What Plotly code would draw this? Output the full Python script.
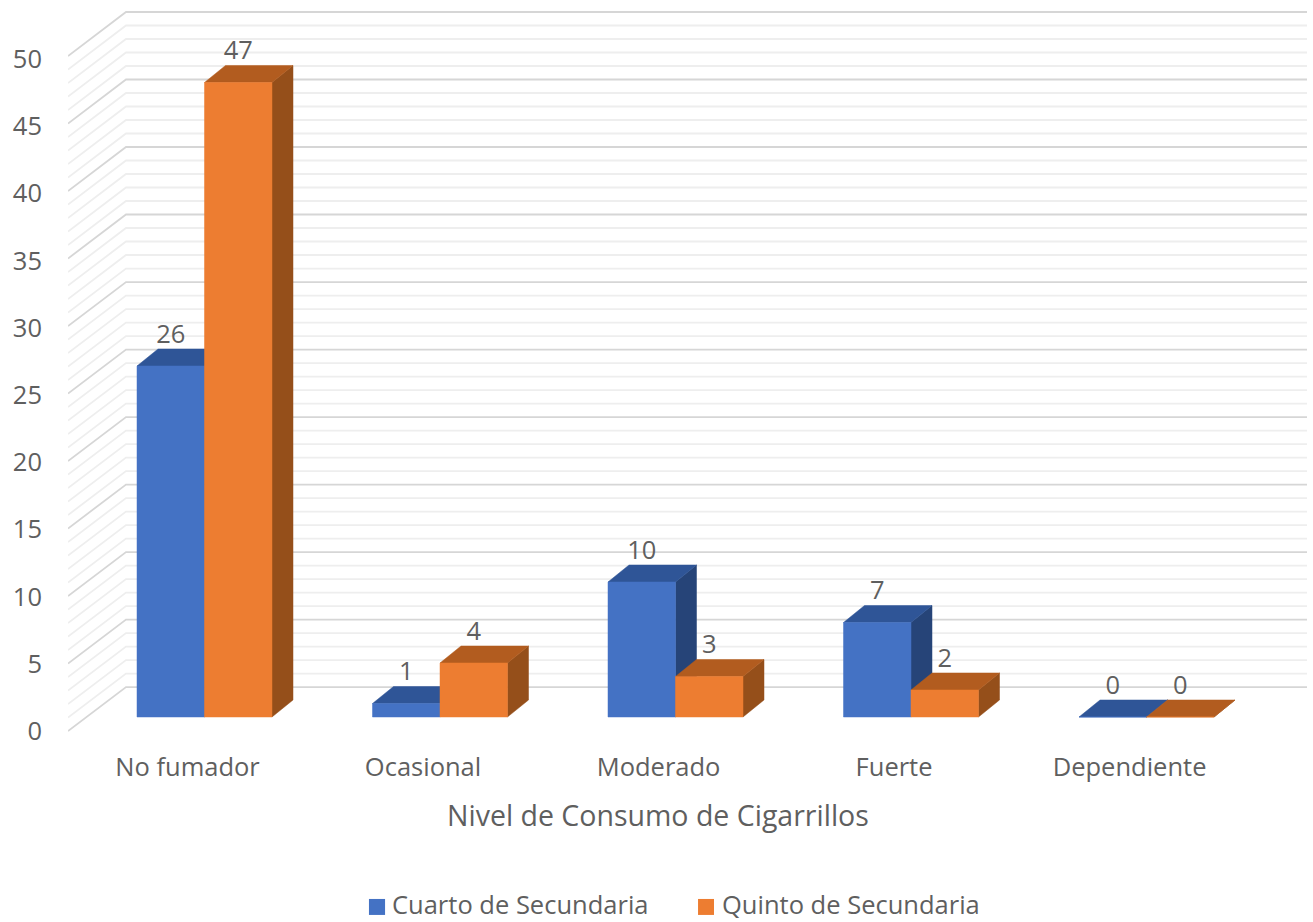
import plotly.graph_objects as go

categories = ["No fumador", "Ocasional", "Moderado", "Fuerte", "Dependiente"]
cuarto = [26, 1, 10, 7, 0]
quinto = [47, 4, 3, 2, 0]
y_ticks = [0, 5, 10, 15, 20, 25, 30, 35, 40, 45, 50]
x_title = "Nivel de Consumo de Cigarrillos"
name_a = "Cuarto de Secundaria"
name_b = "Quinto de Secundaria"

W, H = 1313, 922
BAR_W = 0.2866
DX, DY = 0.0892, 1.26          # oblique depth of a bar (x units, y units)
WALL_X0, WALL_X1, WALL_X2 = -0.5796, -0.3333, 4.6815
WALL_Y_FRONT, WALL_Y_BACK = -1.04, 2.22
LABEL_SHIFT = -0.072           # category labels sit at the front of the floor
TEXT = "#5f5f5f"
FONT = "Open Sans"
FS = 25.5


def faces(values, x_off):
    front_x, front_y, top_x, top_y, side_x, side_y = [], [], [], [], [], []
    for i, v in enumerate(values):
        l, r = i + x_off, i + x_off + BAR_W
        front_x += [l, r, r, l, l, None]
        front_y += [0, 0, v, v, 0, None]
        top_x += [l, r, r + DX, l + DX, l, None]
        top_y += [v, v, v + DY, v + DY, v, None]
        side_x += [r, r + DX, r + DX, r, r, None]
        side_y += [0, DY, v + DY, v, 0, None]
    return (front_x, front_y), (top_x, top_y), (side_x, side_y)


fig = go.Figure()

# carrier so the labelled value axis is drawn
fig.add_trace(go.Scatter(x=[None], y=[None], mode="markers", showlegend=False, hoverinfo="skip"))

# wall grid
for step_major, colour, width in ((False, "#eeeeee", 1.8), (True, "#d6d6d6", 1.8)):
    gx, gy = [], []
    for t in range(0, y_ticks[-1] + 1):
        if (t % 5 == 0) == step_major:
            gx += [WALL_X0, WALL_X1, WALL_X2, None]
            gy += [t + WALL_Y_FRONT, t + WALL_Y_BACK, t + WALL_Y_BACK, None]
    fig.add_trace(go.Scatter(x=gx, y=gy, yaxis="y2", mode="lines", hoverinfo="skip",
                             line=dict(color=colour, width=width), showlegend=False))

series = [
    (cuarto, -BAR_W, name_a, "#4472C4", "#2F5597", "#264478"),
    (quinto, 0.0, name_b, "#ED7D31", "#B25C1F", "#954F1A"),
]
for values, off, name, c_front, c_top, c_side in series:
    front, top, side = faces(values, off)
    for (xs, ys), colour in ((side, c_side), (top, c_top), (front, c_front)):
        fig.add_trace(go.Scatter(x=xs, y=ys, yaxis="y2", mode="lines", fill="toself",
                                 fillcolor=colour, line=dict(color=colour, width=0.5),
                                 hoverinfo="skip", showlegend=False, name=name))

# data labels
for values, off in ((cuarto, -BAR_W / 2), (quinto, BAR_W / 2)):
    fig.add_trace(go.Scatter(
        x=[i + off for i in range(len(values))],
        y=[v + DY + 0.95 for v in values],
        yaxis="y2", mode="text", text=[str(v) for v in values],
        textposition="middle center", cliponaxis=False,
        textfont=dict(family=FONT, size=FS, color=TEXT),
        hoverinfo="skip", showlegend=False))

annotations = [dict(text=x_title, xref="x", yref="paper", x=1.9253, y=-0.1096,
                    xanchor="center", yanchor="middle", showarrow=False,
                    font=dict(family=FONT, size=28.5, color=TEXT))]
shapes = []
# legend row
for name, colour, key_x0, key_x1, text_x in (
        (name_a, "#4472C4", 0.2429, 0.2559, 0.2597),
        (name_b, "#ED7D31", 0.5085, 0.5214, 0.5260)):
    shapes.append(dict(type="rect", xref="paper", yref="paper", x0=key_x0, x1=key_x1,
                       y0=-0.2465, y1=-0.2246, fillcolor=colour, line=dict(width=0)))
    annotations.append(dict(text=name, xref="paper", yref="paper", x=text_x, y=-0.2318,
                            xanchor="left", yanchor="middle", showarrow=False,
                            font=dict(family=FONT, size=FS, color=TEXT)))

fig.update_layout(
    width=W, height=H,
    margin=dict(l=68, r=6, t=5, b=187, pad=0, autoexpand=False),
    paper_bgcolor="white", plot_bgcolor="white",
    font=dict(family=FONT, size=FS, color=TEXT),
    xaxis=dict(
        range=[WALL_X0, WALL_X2], tickmode="array",
        tickvals=[i + LABEL_SHIFT for i in range(len(categories))], ticktext=categories,
        showgrid=False, zeroline=False, showline=False, ticks="",
        ticklabelstandoff=14, tickfont=dict(family=FONT, size=FS, color=TEXT),
    ),
    yaxis=dict(
        range=[-0.296, 54.02], tickmode="array", tickvals=y_ticks,
        showgrid=False, zeroline=False, showline=False, ticks="",
        ticklabelstandoff=25, tickfont=dict(family=FONT, size=FS, color=TEXT),
    ),
    yaxis2=dict(range=[-1.333, 52.74], overlaying="y", visible=False),
    showlegend=False,
    shapes=shapes,
    annotations=annotations,
)

fig.write_html("out.html", config={"displayModeBar": False},
               post_script="document.body.style.margin='0';")
